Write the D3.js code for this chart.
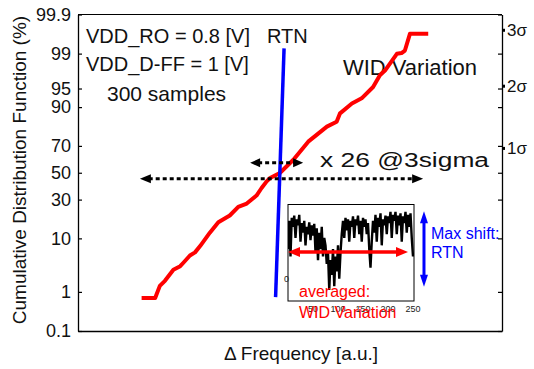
<!DOCTYPE html>
<html>
<head>
<meta charset="utf-8">
<script src="https://cdn.jsdelivr.net/npm/d3@7"></script>
<style>
  html, body { margin: 0; padding: 0; background: #fff; }
  svg { display: block; font-family: "Liberation Sans", Arial, Helvetica, sans-serif; }
</style>
</head>
<body>
<div id="chart"></div>
<script>
// CDF of WID variation (x in a.u., y in %)
const cdfX = [15.0, 18.2, 19.3, 20.5, 22.5, 24.1, 24.8, 26.4, 27.6, 28.8, 31.1, 33.1, 35.8, 37.8, 39.8,
  42.1, 43.3, 44.5, 45.3, 47.6, 50.8, 54.3, 58.7, 61.0, 61.8, 64.6, 66.9, 69.6, 71.2, 72.4, 75.2, 76.3,
  77.1, 78.3, 82.6];
const cdfPct = [0.72, 0.72, 1.36, 1.74, 2.9, 3.4, 3.9, 5.3, 6.0, 7.6, 12.1, 16.7, 20.2, 25.3, 27.4,
  32.8, 38.3, 43.3, 45.9, 49.8, 60.0, 72.8, 81.6, 84.0, 87.7, 91.2, 92.7, 95.3, 97.15, 97.7, 98.99, 99.03,
  99.15, 99.67, 99.67];

// RTN spread
const rtnX = [46.6, 48.6];
const rtnPct = [0.76, 99.24];

// axis ticks
const pctTicks = [0.1, 1, 10, 30, 50, 70, 90, 95, 99, 99.9];
const pctTickLabels = ["0.1", "1", "10", "30", "50", "70", "90", "95", "99", "99.9"];
const sigmaPct = [68.27, 95.45, 99.73];
const sigmaLabels = ["1σ", "2σ", "3σ"];

// inset: RTN trace over time
const traceT = d3.range(0, 250.1, 2.5);
const traceV = [40, 78, 30, 82, 70, 85, 55, 80, 72, 86, 50, 75, 62, 78, 45, 70, 60, 76, 52, 72,
  58, 74, 35, 68, 25, 62, 40, 70, 30, 55, 45, 20, 35, -15, 25, 5, 40, -10, 30, 10,
  45, 0, 35, 60, 78, 55, 82, 65, 80, 50, 78, 70, 84, 55, 80, 72, 85, 60, 78, 50,
  82, 70, 80, 60, 75, 40, 15, 50, 78, 62, 86, 50, 82, 70, 88, 45, 80, 72, 85, 60,
  84, 75, 90, 55, 86, 78, 90, 60, 85, 72, 88, 50, 84, 75, 90, 62, 86, 70, 88, 55, 30];
const insetXTicks = [50, 100, 150, 200, 250];

const W = 534, H = 369;
const plot = { left: 78, right: 502, top: 14.5, bottom: 331 };

// inverse normal CDF (Acklam)
function probit(p) {
  const a = [-3.969683028665376e+01, 2.209460984245205e+02, -2.759285104469687e+02, 1.383577518672690e+02, -3.066479806614716e+01, 2.506628277459239e+00];
  const b = [-5.447609879822406e+01, 1.615858368580409e+02, -1.556989798598866e+02, 6.680131188771972e+01, -1.328068155288572e+01];
  const c = [-7.784894002430293e-03, -3.223964580411365e-01, -2.400758277161838e+00, -2.549671010064546e+00, 4.374664141464968e+00, 2.938163982698783e+00];
  const d = [7.784695709041462e-03, 3.224671290700398e-01, 2.445134137142996e+00, 3.754408661907416e+00];
  const pl = 0.02425;
  if (p < pl) {
    const q = Math.sqrt(-2 * Math.log(p));
    return (((((c[0]*q+c[1])*q+c[2])*q+c[3])*q+c[4])*q+c[5]) / ((((d[0]*q+d[1])*q+d[2])*q+d[3])*q+1);
  }
  if (p > 1 - pl) {
    const q = Math.sqrt(-2 * Math.log(1 - p));
    return -(((((c[0]*q+c[1])*q+c[2])*q+c[3])*q+c[4])*q+c[5]) / ((((d[0]*q+d[1])*q+d[2])*q+d[3])*q+1);
  }
  const q = p - 0.5, r = q * q;
  return (((((a[0]*r+a[1])*r+a[2])*r+a[3])*r+a[4])*r+a[5])*q / (((((b[0]*r+b[1])*r+b[2])*r+b[3])*r+b[4])*r+1);
}

const zMax = probit(0.999);
const xScale = d3.scaleLinear().domain([0, 100]).range([plot.left, plot.right]);
const zScale = d3.scaleLinear().domain([-zMax, zMax]).range([plot.bottom, plot.top]);
const yPct = p => zScale(probit(p / 100));

const svg = d3.select("#chart").append("svg")
  .attr("width", W).attr("height", H);

// arrow helper: line with filled triangle heads at both ends
function arrow(g, x1, y1, x2, y2, o) {
  const ang = Math.atan2(y2 - y1, x2 - x1);
  const L = o.headLen, hw = o.headW / 2;
  const cs = Math.cos(ang), sn = Math.sin(ang);
  g.append("line")
    .attr("x1", x1 + cs * L * 0.8).attr("y1", y1 + sn * L * 0.8)
    .attr("x2", x2 - cs * L * 0.8).attr("y2", y2 - sn * L * 0.8)
    .attr("stroke", o.color).attr("stroke-width", o.width)
    .attr("stroke-dasharray", o.dash || null);
  const head = (tx, ty, dir) => {
    const bx = tx - dir * cs * L, by = ty - dir * sn * L;
    return [[tx, ty], [bx - sn * hw, by + cs * hw], [bx + sn * hw, by - cs * hw]];
  };
  [head(x2, y2, 1), head(x1, y1, -1)].forEach(pts => {
    g.append("polygon").attr("points", pts.map(p => p.join(",")).join(" ")).attr("fill", o.color);
  });
}

// axes
const yLeft = d3.axisLeft(zScale)
  .tickValues(pctTicks.map(p => probit(p / 100)))
  .tickFormat((d, i) => pctTickLabels[i])
  .tickSizeInner(-4).tickSizeOuter(0).tickPadding(7);
const yRight = d3.axisRight(zScale)
  .tickValues(pctTicks.map(p => probit(p / 100)))
  .tickFormat("")
  .tickSizeInner(-4).tickSizeOuter(0);
const xBottom = d3.axisBottom(xScale).tickValues([]).tickSizeOuter(0);

const gl = svg.append("g").attr("transform", `translate(${plot.left},0)`).call(yLeft);
gl.selectAll("text").attr("font-size", 18).attr("fill", "#111").attr("font-family", "Liberation Sans, Arial, sans-serif");
svg.append("g").attr("transform", `translate(${plot.right},0)`).call(yRight);
svg.append("g").attr("transform", `translate(0,${plot.bottom})`).call(xBottom);
svg.append("line").attr("x1", plot.left).attr("x2", plot.right)
  .attr("y1", plot.top).attr("y2", plot.top).attr("stroke", "#000");
svg.selectAll(".domain").attr("stroke", "#000").attr("stroke-width", 1.3);
svg.selectAll(".tick line").attr("stroke", "#000").attr("stroke-width", 1.2);

// sigma marks on right axis
sigmaPct.forEach((p, i) => {
  svg.append("rect").attr("x", plot.right).attr("y", yPct(p) - 1.5)
    .attr("width", 3).attr("height", 3).attr("fill", "#000");
  svg.append("text").attr("x", plot.right + 5).attr("y", yPct(p) + 6)
    .attr("font-size", 17).attr("fill", "#111").text(sigmaLabels[i]);
});

// axis titles
svg.append("text")
  .attr("transform", "translate(26,170) rotate(-90)")
  .attr("text-anchor", "middle").attr("font-size", 19).attr("fill", "#111")
  .text("Cumulative Distribution Function (%)");
svg.append("text")
  .attr("x", 301).attr("y", 360)
  .attr("text-anchor", "middle").attr("font-size", 19).attr("fill", "#111")
  .text("Δ Frequency [a.u.]");

// text annotations
const note = (x, y, s, size, color) => svg.append("text")
  .attr("x", x).attr("y", y).attr("font-size", size).attr("fill", color || "#111").text(s);
note(86, 43, "VDD_RO = 0.8 [V]", 20);
note(267, 43, "RTN", 20);
note(86, 71, "VDD_D-FF = 1 [V]", 20);
note(107, 101, "300 samples", 21);
note(477, 75, "WID Variation", 22).attr("text-anchor", "end");

// CDF curves
const line = d3.line().x(d => xScale(d[0])).y(d => yPct(d[1]));
svg.append("path")
  .datum(cdfX.map((x, i) => [x, cdfPct[i]]))
  .attr("d", line).attr("fill", "none")
  .attr("stroke", "#ff0000").attr("stroke-width", 4).attr("stroke-linejoin", "round");
svg.append("path")
  .datum(rtnX.map((x, i) => [x, rtnPct[i]]))
  .attr("d", line).attr("fill", "none")
  .attr("stroke", "#0000ff").attr("stroke-width", 3.5);

// dotted spread arrows
const ann = svg.append("g");
arrow(ann, xScale(14.6), yPct(45.4), xScale(81.4), yPct(45.4),
  { color: "#000", width: 3, dash: "4,3", headLen: 11, headW: 9 });
arrow(ann, xScale(40.6), yPct(57.7), xScale(53.1), yPct(57.7),
  { color: "#000", width: 3, dash: "4,3", headLen: 10, headW: 9 });
svg.append("text")
  .attr("transform", "translate(320,167) scale(1.32,1)")
  .attr("font-size", 20).attr("fill", "#111").text("x 26  @3sigma");

// inset
const inset = { left: 288, right: 414, top: 204.5, bottom: 301 };
const ix = d3.scaleLinear().domain([0, 250]).range([288, 413]);
const iy = d3.scaleLinear().domain([-30, 100]).range([inset.bottom, inset.top]);
svg.append("defs").append("clipPath").attr("id", "insetClip")
  .append("rect").attr("x", inset.left).attr("y", inset.top)
  .attr("width", inset.right - inset.left).attr("height", inset.bottom - inset.top);
svg.append("rect").attr("x", inset.left).attr("y", inset.top)
  .attr("width", inset.right - inset.left).attr("height", inset.bottom - inset.top)
  .attr("fill", "#fff");
svg.append("path")
  .datum(traceT.map((t, i) => [t, traceV[i]]))
  .attr("clip-path", "url(#insetClip)")
  .attr("d", d3.line().x(d => ix(d[0])).y(d => iy(d[1])))
  .attr("fill", "none").attr("stroke", "#000").attr("stroke-width", 2.4);
svg.append("rect").attr("x", inset.left).attr("y", inset.top)
  .attr("width", inset.right - inset.left).attr("height", inset.bottom - inset.top)
  .attr("fill", "none").attr("stroke", "#000").attr("stroke-width", 1);
svg.append("g").selectAll("text").data(insetXTicks).join("text")
  .attr("x", d => ix(d)).attr("y", 312).attr("text-anchor", "middle")
  .attr("font-size", 9).attr("fill", "#222").text(d => d);
svg.append("text").attr("x", 289).attr("y", iy(0) + 3).attr("text-anchor", "end")
  .attr("font-size", 9).attr("fill", "#222").text("0");

// red averaged arrow & blue max shift arrow
arrow(svg, ix(0), iy(36), ix(240), iy(36), { color: "#ff0000", width: 3.5, headLen: 12, headW: 10 });
arrow(svg, xScale(81.6), yPct(22.6), xScale(81.6), yPct(1.3), { color: "#0000ff", width: 3, headLen: 12, headW: 8 });

note(431, 239, "Max shift:", 16, "#0000ff");
note(431, 258, "RTN", 16, "#0000ff");
note(299, 297, "averaged:", 16, "#ff0000");
note(299, 318, "WID Variation", 16, "#ff0000");
</script>
</body>
</html>
